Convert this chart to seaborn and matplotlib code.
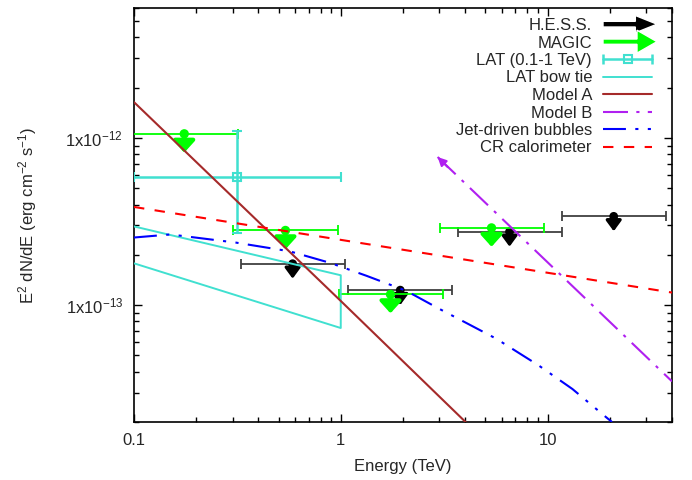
import numpy as np
import matplotlib
matplotlib.use("Agg")
import matplotlib.pyplot as plt
import matplotlib.patches as mpatches
from matplotlib.lines import Line2D
from matplotlib.legend_handler import HandlerPatch, HandlerLine2D, HandlerTuple
import seaborn as sns

# ---------------- data ----------------
hess_E = [0.585, 1.94, 6.55, 20.9]
hess_Elo = [0.331, 1.08, 3.67, 11.8]
hess_Ehi = [1.045, 3.47, 11.7, 37.6]
hess_UL = [1.77e-13, 1.23e-13, 2.75e-13, 3.4e-13]

magic_E = [0.175, 0.54, 1.74, 5.36]
magic_Elo = [0.08, 0.30, 0.98, 3.03]
magic_Ehi = [0.317, 0.97, 3.13, 9.57]
magic_UL = [1.06e-12, 2.8e-13, 1.16e-13, 2.9e-13]

lat_E = [0.316]
lat_Elo = [0.1]
lat_Ehi = [1.0]
lat_F = [5.88e-13]
lat_Flo = [2.71e-13]
lat_Fhi = [1.1e-12]

bowtie_E = [0.1, 1.0, 1.0, 0.1]
bowtie_F = [2.96e-13, 1.51e-13, 7.3e-14, 1.78e-13]

modelA_E = [0.1, 1.0, 4.1]
modelA_F = [1.64e-12, 1.06e-13, 1.95e-14]

modelB_E = [2.94, 40.0]
modelB_F = [7.7e-13, 3.5e-14]

jet_E = [0.1, 0.15, 0.31, 0.567, 0.89, 1.33, 2.07, 3.0, 4.07, 5.65, 9.06, 13.2, 19.0, 20.5]
jet_F = [2.54e-13, 2.65e-13, 2.37e-13, 2.1e-13, 1.79e-13, 1.5e-13, 1.22e-13,
         9.5e-14, 7.8e-14, 6.3e-14, 4.36e-14, 3.15e-14, 2.16e-14, 2.0e-14]

cr_E = [0.1, 40.0]
cr_F = [3.87e-13, 1.19e-13]

labels = ["H.E.S.S.", "MAGIC", "LAT (0.1-1 TeV)", "LAT bow tie", "Model A",
          "Model B", "Jet-driven bubbles", "CR calorimeter"]

# ---------------- styles ----------------
C_HESS = "black"
C_HESS_BAR = "#404040"
C_MAGIC = "#00ff00"
C_LAT = "#40e0d0"
C_A = "#a52a2a"
C_B = "#b020f0"
C_JET = "#0000ff"
C_CR = "#ff0000"
HESS_ARROW_DEC = 15 / 168
MAGIC_ARROW_DEC = 19 / 168

sns.set_style("ticks")
plt.rcParams["font.family"] = ["Liberation Sans", "DejaVu Sans"]
plt.rcParams["mathtext.fontset"] = "custom"
plt.rcParams["mathtext.rm"] = "Liberation Sans"
plt.rcParams["mathtext.it"] = "Liberation Sans:italic"
plt.rcParams["mathtext.bf"] = "Liberation Sans:bold"
plt.rcParams["font.size"] = 12
plt.rcParams["axes.unicode_minus"] = False

fig = plt.figure(figsize=(6.92, 4.80), dpi=100)
AX_L, AX_R, AX_T, AX_B = 134, 672, 8, 422
ax = fig.add_axes([AX_L / 692, 1 - AX_B / 480, (AX_R - AX_L) / 692, (AX_B - AX_T) / 480])
ax.set_xscale("log")
ax.set_yscale("log")
ax.set_xlim(0.1, 40)
ax.set_ylim(2e-14, 6e-12)

def xerr(E, lo, hi):
    E = np.asarray(E); return [E - np.asarray(lo), np.asarray(hi) - E]

# H.E.S.S.
ax.errorbar(hess_E, hess_UL, xerr=xerr(hess_E, hess_Elo, hess_Ehi), fmt="none",
            ecolor=C_HESS_BAR, elinewidth=1.3, capsize=3.5, capthick=1.3, zorder=2)
for E, F in zip(hess_E, hess_UL):
    ax.annotate("", xy=(E, F * 10 ** (-HESS_ARROW_DEC)), xytext=(E, F),
                arrowprops=dict(arrowstyle="-|>,head_length=0.45,head_width=0.33",
                                mutation_scale=14, lw=2.4, color=C_HESS,
                                shrinkA=0, shrinkB=0), zorder=2)
sns.scatterplot(x=hess_E, y=hess_UL, color=C_HESS, s=40, edgecolor="none", ax=ax, zorder=2)

# MAGIC
ax.errorbar(magic_E, magic_UL, xerr=xerr(magic_E, magic_Elo, magic_Ehi), fmt="none",
            ecolor=C_MAGIC, elinewidth=1.3, capsize=3.5, capthick=1.3, zorder=3)
for E, F in zip(magic_E, magic_UL):
    ax.annotate("", xy=(E, F * 10 ** (-MAGIC_ARROW_DEC)), xytext=(E, F),
                arrowprops=dict(arrowstyle="-|>,head_length=0.42,head_width=0.38",
                                mutation_scale=17, lw=3.0, color=C_MAGIC,
                                shrinkA=0, shrinkB=0), zorder=3)
sns.scatterplot(x=magic_E, y=magic_UL, color=C_MAGIC, s=45, edgecolor="none", ax=ax, zorder=3)

# LAT point
ax.errorbar(lat_E, lat_F, xerr=xerr(lat_E, lat_Elo, lat_Ehi),
            yerr=[np.asarray(lat_F) - np.asarray(lat_Flo), np.asarray(lat_Fhi) - np.asarray(lat_F)],
            fmt="s", mfc="none", mec=C_LAT, ms=6, mew=1.5, ecolor=C_LAT,
            elinewidth=1.8, capsize=3.5, capthick=1.8, zorder=4)

# LAT bow tie
sns.lineplot(x=bowtie_E, y=bowtie_F, sort=False, estimator=None, color=C_LAT, lw=1.4, ax=ax, zorder=5)

# Model A
sns.lineplot(x=modelA_E, y=modelA_F, sort=False, estimator=None, color=C_A, lw=1.5, ax=ax, zorder=6)

# Model B
sns.lineplot(x=modelB_E, y=modelB_F, sort=False, estimator=None, color=C_B, lw=1.5, ax=ax, zorder=7)
ax.lines[-1].set_dashes([12, 4, 1.5, 4])
ax.annotate("", xy=(modelB_E[0], modelB_F[0]),
            xytext=(modelB_E[0] * 1.12, modelB_F[0] * 0.87),
            arrowprops=dict(arrowstyle="-|>,head_length=0.5,head_width=0.25", mutation_scale=10,
                            lw=1.5, color=C_B, shrinkA=0, shrinkB=0), zorder=7)

# Jet-driven bubbles
sns.lineplot(x=jet_E, y=jet_F, sort=False, estimator=None, color=C_JET, lw=1.5, ax=ax, zorder=8)
ax.lines[-1].set_dashes([11, 4.5, 1.5, 4.5, 1.5, 4.5])

# CR calorimeter
sns.lineplot(x=cr_E, y=cr_F, sort=False, estimator=None, color=C_CR, lw=1.5, ax=ax, zorder=9)
ax.lines[-1].set_dashes([5, 5])

# ---------------- axes ----------------
ax.set_xticks([0.1, 1, 10])
ax.set_xticklabels(["0.1", "1", "10"])
ax.xaxis.set_minor_locator(matplotlib.ticker.LogLocator(base=10, subs=np.arange(2, 10)))
ax.xaxis.set_minor_formatter(matplotlib.ticker.NullFormatter())
ax.set_yticks([1e-13, 1e-12])
ax.yaxis.set_major_formatter(matplotlib.ticker.FuncFormatter(
    lambda v, p: r"1x10$^{\mathregular{%d}}$" % int(round(np.log10(v)))))
ax.yaxis.set_minor_locator(matplotlib.ticker.LogLocator(base=10, subs=np.arange(2, 10)))
ax.yaxis.set_minor_formatter(matplotlib.ticker.NullFormatter())
ax.tick_params(which="both", direction="in", top=True, right=True, color="black", width=1)
ax.tick_params(which="major", length=6, labelsize=12, pad=8)
ax.tick_params(which="minor", length=3.5)
for s in ax.spines.values():
    s.set_color("black"); s.set_linewidth(1.2)

ax.set_xlabel("Energy (TeV)", fontsize=12, labelpad=8)
ax.set_ylabel(r"E$^{\mathregular{2}}$ dN/dE (erg cm$^{\mathregular{-2}}$ s$^{\mathregular{-1}}$)",
              fontsize=12, labelpad=19)

# ---------------- legend ----------------
class ArrowProxy(mpatches.Rectangle):
    def __init__(self, color, w, hw, hl, extra):
        super().__init__((0, 0), 1, 1, facecolor=color)
        self.arrow_w, self.arrow_hw, self.arrow_hl, self.arrow_extra = w, hw, hl, extra

def make_arrow(legend, orig_handle, xdescent, ydescent, width, height, fontsize):
    return mpatches.FancyArrow(-xdescent, height / 2 - ydescent, width + orig_handle.arrow_extra, 0,
                               width=orig_handle.arrow_w, head_width=orig_handle.arrow_hw,
                               head_length=orig_handle.arrow_hl, length_includes_head=True,
                               color=orig_handle.get_facecolor(), lw=0)

h_hess = ArrowProxy(C_HESS, 4.1, 12.5, 15.6, 3.6)
h_magic = ArrowProxy(C_MAGIC, 3.8, 16.5, 14.4, 3.6)
lat_line = Line2D([], [], color=C_LAT, lw=1.8)
lat_caps = Line2D([], [], color=C_LAT, marker="|", ms=7, mew=1.8, ls="none")
lat_sq = Line2D([], [], color=C_LAT, marker="s", ms=6, mfc="none", mew=1.5, ls="none")
h_bow = Line2D([], [], color=C_LAT, lw=1.4)
h_A = Line2D([], [], color=C_A, lw=1.5)
h_B = Line2D([], [], color=C_B, lw=1.5, dashes=[12, 4, 1.5, 4])
h_J = Line2D([], [], color=C_JET, lw=1.5, dashes=[11, 4.5, 1.5, 4.5, 1.5, 4.5])
h_C = Line2D([], [], color=C_CR, lw=1.5, dashes=[5, 5])

handles = [h_hess, h_magic, (lat_line, lat_caps, lat_sq), h_bow, h_A, h_B, h_J, h_C]
leg = ax.legend(handles, labels, loc="upper right", markerfirst=False, frameon=False,
                fontsize=12, handlelength=2.94, handletextpad=0.66, labelspacing=0.15,
                bbox_to_anchor=(1 - 20 / (AX_R - AX_L), 1 - 10 / (AX_B - AX_T)),
                borderaxespad=0, borderpad=0,
                handler_map={ArrowProxy: HandlerPatch(patch_func=make_arrow),
                             lat_caps: HandlerLine2D(numpoints=2, marker_pad=0),
                             tuple: HandlerTuple(ndivide=1)})
for t in leg.get_texts():
    t.set_ha("right")
leg._legend_box.align = "right"

fig.savefig("out.png", dpi=100)
